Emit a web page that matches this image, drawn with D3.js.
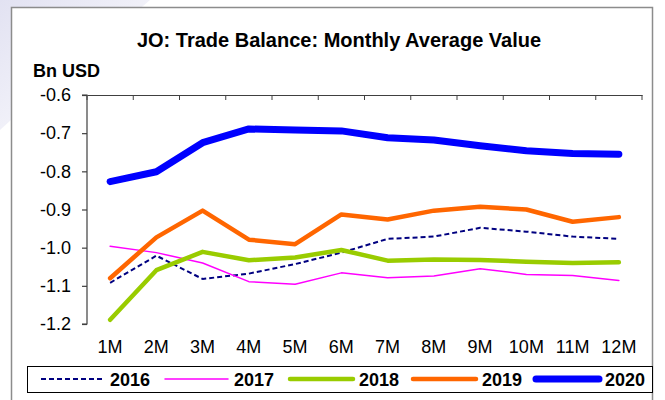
<!DOCTYPE html>
<html>
<head>
<meta charset="utf-8">
<script src="https://cdn.jsdelivr.net/npm/d3@7"></script>
<style>
	body { margin: 0; background: #fff; }
	svg { display: block; font-family: Arial, "Liberation Sans", sans-serif; }
</style>
</head>
<body>
<svg id="chart"></svg>
<script>
var months = ['1M', '2M', '3M', '4M', '5M', '6M', '7M', '8M', '9M', '10M', '11M', '12M'];

var values2016 = [-1.092, -1.021, -1.082, -1.068, -1.043, -1.013, -0.977, -0.971, -0.948, -0.958, -0.971, -0.977];
var values2017 = [-0.996, -1.013, -1.040, -1.089, -1.096, -1.066, -1.079, -1.074, -1.055, -1.070, -1.073, -1.086];
var values2018 = [-1.189, -1.059, -1.011, -1.033, -1.026, -1.006, -1.034, -1.031, -1.032, -1.037, -1.040, -1.038];
var values2019 = [-1.080, -0.973, -0.903, -0.979, -0.991, -0.913, -0.926, -0.903, -0.893, -0.900, -0.932, -0.920];
var values2020 = [-0.827, -0.801, -0.725, -0.689, -0.692, -0.694, -0.712, -0.718, -0.733, -0.746, -0.753, -0.755];

var yTicks = [-0.6, -0.7, -0.8, -0.9, -1.0, -1.1, -1.2];

var series = [
	{ name: '2016', values: values2016, color: '#000080', width: 2, dash: '5,3' },
	{ name: '2017', values: values2017, color: '#ff00ff', width: 1.5, dash: null },
	{ name: '2018', values: values2018, color: '#99cc00', width: 4.5, dash: null },
	{ name: '2019', values: values2019, color: '#ff6600', width: 4.5, dash: null },
	{ name: '2020', values: values2020, color: '#0000ff', width: 7, dash: null }
];

var width = 665,
    height = 400;

// plot area
var margin = {top: 95, right: 23, bottom: 76, left: 87},
    plotW = width - margin.left - margin.right,
    plotH = height - margin.top - margin.bottom;

var svg = d3.select('#chart')
	.attr('width', width)
	.attr('height', height);

// faint background band behind the frame (top-left corner)
var bg = svg.append('defs').append('linearGradient')
	.attr('id', 'corner')
	.attr('x1', 0).attr('y1', 0).attr('x2', 1).attr('y2', 1);
bg.append('stop').attr('offset', '0%').attr('stop-color', '#e2e2f2');
bg.append('stop').attr('offset', '100%').attr('stop-color', '#ffffff');

svg.append('path')
	.attr('d', 'M0,0 L150,0 L11,120 L0,130 Z')
	.style('fill', 'url(#corner)');

svg.append('rect')
	.attr('x', 11.5)
	.attr('y', 7.5)
	.attr('width', 641)
	.attr('height', 400)
	.style('fill', '#fff')
	.style('stroke', '#8c8c8c')
	.style('stroke-width', 1.5);

var x = d3.scaleBand()
	.domain(months)
	.range([margin.left, margin.left + plotW]);

var y = d3.scaleLinear()
	.domain([-1.2, -0.6])
	.range([margin.top + plotH, margin.top]);

// title and unit label
svg.append('text')
	.attr('x', 339)
	.attr('y', 47)
	.attr('text-anchor', 'middle')
	.style('font-size', '20px')
	.style('font-weight', 'bold')
	.text('JO: Trade Balance: Monthly Average Value');

svg.append('text')
	.attr('x', 33)
	.attr('y', 77)
	.style('font-size', '18px')
	.style('font-weight', 'bold')
	.text('Bn USD');

// y axis
var yAxis = svg.append('g')
	.attr('transform', 'translate(' + margin.left + ',0)')
	.call(d3.axisLeft(y)
		.tickValues(yTicks)
		.tickSize(5)
		.tickPadding(11)
		.tickFormat(function(d) { return d.toFixed(1); }));

yAxis.select('.domain').attr('d', 'M-5,' + y(-1.2) + 'H0V' + y(-0.6) + 'H-5');

// category axis at the top, labels at the bottom
var xAxis = svg.append('g')
	.attr('transform', 'translate(0,' + margin.top + ')')
	.call(d3.axisBottom(x)
		.tickValues([])
		.tickSizeOuter(0));

xAxis.selectAll('.cat-tick')
	.data(d3.range(months.length + 1))
	.enter()
	.append('line')
	.attr('class', 'cat-tick')
	.attr('x1', function(d) { return margin.left + d * x.step(); })
	.attr('x2', function(d) { return margin.left + d * x.step(); })
	.attr('y1', 0)
	.attr('y2', 5)
	.style('stroke', '#404040');

svg.selectAll('.domain, .tick line')
	.style('stroke', '#404040')
	.style('stroke-width', 1.2);

yAxis.selectAll('text')
	.style('font-size', '18px')
	.style('font-family', 'Arial, "Liberation Sans", sans-serif')
	.style('fill', '#000');

svg.selectAll('.month-label')
	.data(months)
	.enter()
	.append('text')
	.attr('class', 'month-label')
	.attr('x', function(d) { return x(d) + x.bandwidth() / 2; })
	.attr('y', 353)
	.attr('text-anchor', 'middle')
	.style('font-size', '18px')
	.text(function(d) { return d; });

// lines
var line = d3.line()
	.x(function(d, i) { return x(months[i]) + x.bandwidth() / 2; })
	.y(function(d) { return y(d); });

svg.selectAll('.series')
	.data(series)
	.enter()
	.append('path')
	.attr('class', 'series')
	.attr('d', function(d) { return line(d.values); })
	.style('fill', 'none')
	.style('stroke', function(d) { return d.color; })
	.style('stroke-width', function(d) { return d.width; })
	.style('stroke-dasharray', function(d) { return d.dash; })
	.style('stroke-linejoin', 'round')
	.style('stroke-linecap', function(d) { return d.dash ? 'butt' : 'round'; });

// legend
var legendX = [41, 165, 290, 413, 536];

svg.append('rect')
	.attr('x', 27.5)
	.attr('y', 366.5)
	.attr('width', 625)
	.attr('height', 26)
	.style('fill', '#fff')
	.style('stroke', '#000')
	.style('stroke-width', 1);

var legendItem = svg.selectAll('.legend-item')
	.data(series)
	.enter()
	.append('g')
	.attr('class', 'legend-item')
	.attr('transform', function(d, i) {
		return 'translate(' + legendX[i] + ',379)';
	});

legendItem.append('line')
	.attr('x1', 0)
	.attr('x2', 63)
	.style('stroke', function(d) { return d.color; })
	.style('stroke-width', function(d) { return d.width; })
	.style('stroke-dasharray', function(d) { return d.dash; })
	.style('stroke-linecap', function(d) { return d.dash ? 'butt' : 'round'; });

legendItem.append('text')
	.attr('x', 69)
	.attr('y', 7)
	.style('font-size', '18px')
	.style('font-weight', 'bold')
	.text(function(d) { return d.name; });
</script>
</body>
</html>
